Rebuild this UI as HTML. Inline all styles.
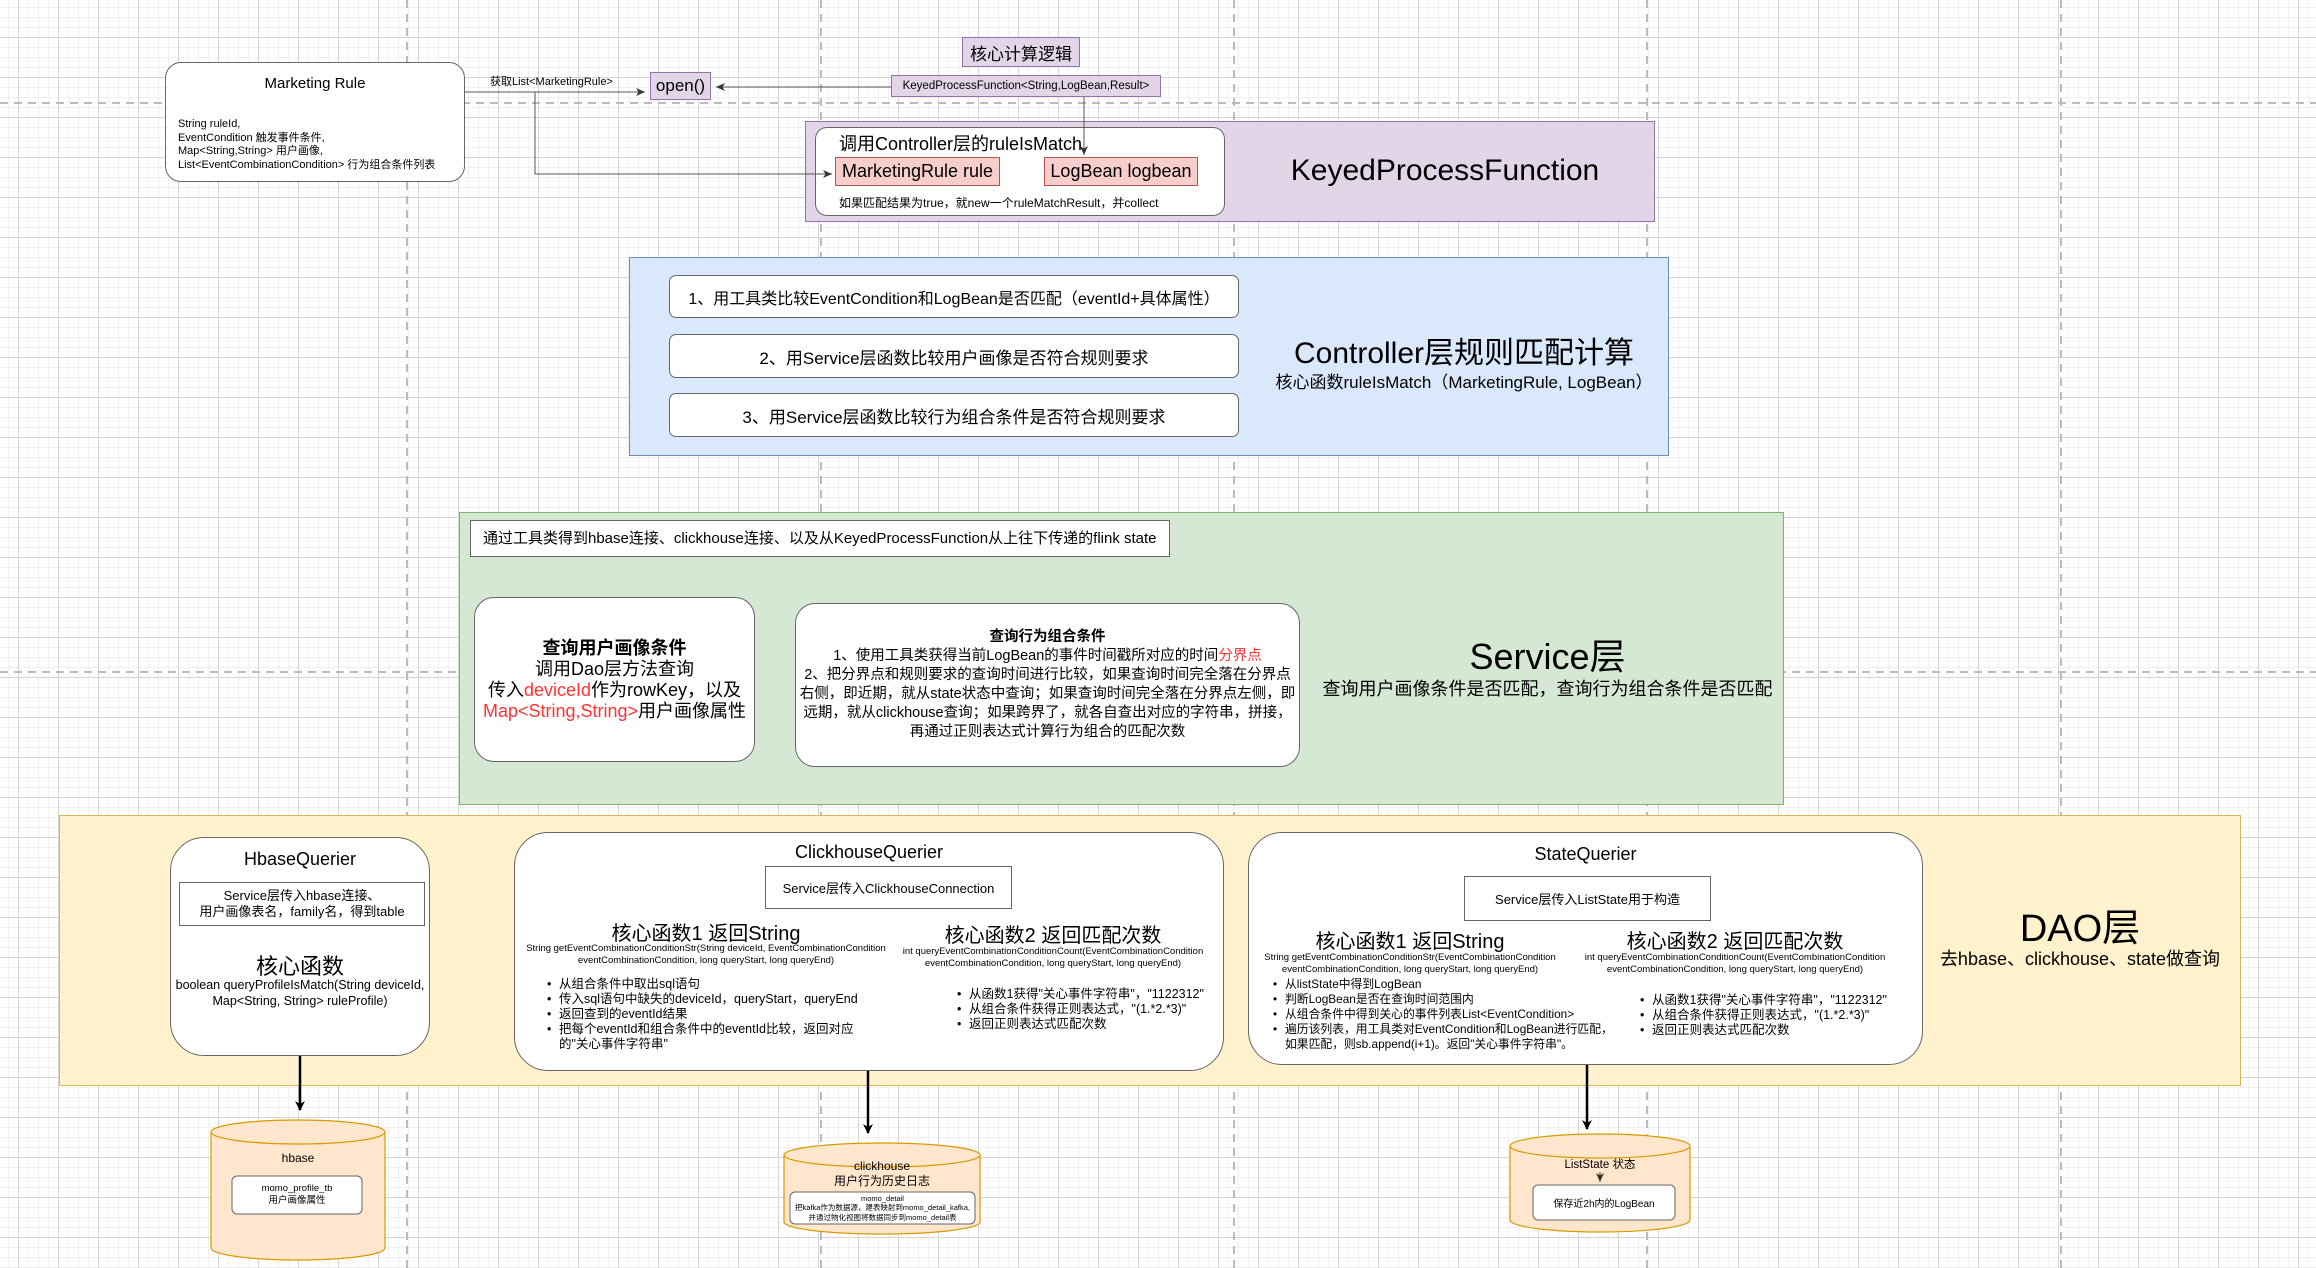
<!DOCTYPE html>
<html><head><meta charset="utf-8">
<style>
*{margin:0;padding:0;box-sizing:border-box}
body{width:2316px;height:1268px;position:relative;overflow:hidden;background:#fff;
font-family:"Liberation Sans","Noto Sans CJK SC",sans-serif;color:#000;
background-image:
linear-gradient(#d4d4d4 1px,transparent 1px),
linear-gradient(90deg,#d4d4d4 1px,transparent 1px),
linear-gradient(#f0f0f0 1px,transparent 1px),
linear-gradient(90deg,#f0f0f0 1px,transparent 1px);
background-size:40px 40px,40px 40px,10px 10px,10px 10px;
background-position:0 37px,18px 0,0 7px,8px 0;}
.a{position:absolute}
.c{display:flex;align-items:center;justify-content:center;text-align:center;flex-direction:column}
.red{color:#ff3333}
ul{list-style:none}
li{position:relative;padding-left:12px}
li:before{content:"•";position:absolute;left:0}
</style></head><body>
<svg class="a" style="left:0;top:0" width="2316" height="1268">
<g stroke="#bbb" stroke-width="2" stroke-dasharray="8,6" fill="none">
<line x1="0" y1="103" x2="2316" y2="103"/>
<line x1="0" y1="672" x2="2316" y2="672"/>
<line x1="407" y1="0" x2="407" y2="1268"/>
<line x1="821" y1="0" x2="821" y2="1268"/>
<line x1="1234" y1="0" x2="1234" y2="1268"/>
<line x1="1647" y1="0" x2="1647" y2="1268"/>
<line x1="2061" y1="0" x2="2061" y2="1268"/>
</g>
</svg>

<div class="a" style="left:165px;top:62px;width:300px;height:120px;background:#fff;border:1px solid #666;border-radius:16px;">
<div class="a" style="left:0;top:12px;width:100%;text-align:center;font-size:15px">Marketing Rule</div>
<div class="a" style="left:12px;top:55px;font-size:11px;line-height:13.5px">String ruleId,<br>EventCondition 触发事件条件,<br>Map&lt;String,String&gt; 用户画像,<br>List&lt;EventCombinationCondition&gt; 行为组合条件列表</div>
</div>
<div class="a" style="left:490px;top:73px;font-size:11px">获取List&lt;MarketingRule&gt;</div>

<div class="a c" style="left:650px;top:72px;width:61px;height:28px;background:#e1d5e7;border:1px solid #9673a6;font-size:17px">open()</div>
<div class="a c" style="left:962px;top:37px;width:118px;height:30px;background:#e1d5e7;border:1px solid #9673a6;font-size:17px">核心计算逻辑</div>
<div class="a c" style="left:891px;top:75px;width:270px;height:22px;background:#e1d5e7;border:1px solid #9673a6;font-size:11.5px">KeyedProcessFunction&lt;String,LogBean,Result&gt;</div>

<div class="a" style="left:805px;top:121px;width:850px;height:101px;background:#e1d5e7;border:1px solid #9673a6"></div>
<div class="a c" style="left:1240px;top:150px;width:410px;height:42px;font-size:30px">KeyedProcessFunction</div>
<div class="a" style="left:815px;top:127px;width:410px;height:89px;background:#fff;border:1px solid #666;border-radius:12px"></div>
<div class="a" style="left:839px;top:130px;font-size:18px">调用Controller层的ruleIsMatch</div>
<div class="a c" style="left:835px;top:157px;width:165px;height:29px;background:#f8cecc;border:1px solid #b85450;font-size:18px">MarketingRule rule</div>
<div class="a c" style="left:1044px;top:157px;width:154px;height:29px;background:#f8cecc;border:1px solid #b85450;font-size:18px">LogBean logbean</div>
<div class="a" style="left:839px;top:194px;font-size:12px">如果匹配结果为true，就new一个ruleMatchResult，并collect</div>

<div class="a" style="left:629px;top:257px;width:1040px;height:199px;background:#dae8fc;border:1px solid #6c8ebf"></div>
<div class="a c" style="left:669px;top:275px;width:570px;height:43px;background:#fff;border:1px solid #666;border-radius:7px;font-size:16px">1、用工具类比较EventCondition和LogBean是否匹配（eventId+具体属性）</div>
<div class="a c" style="left:669px;top:334px;width:570px;height:44px;background:#fff;border:1px solid #666;border-radius:7px;font-size:17px">2、用Service层函数比较用户画像是否符合规则要求</div>
<div class="a c" style="left:669px;top:393px;width:570px;height:44px;background:#fff;border:1px solid #666;border-radius:7px;font-size:17px">3、用Service层函数比较行为组合条件是否符合规则要求</div>
<div class="a c" style="left:1250px;top:330px;width:428px;height:40px;font-size:30px">Controller层规则匹配计算</div>
<div class="a c" style="left:1250px;top:367px;width:428px;height:26px;font-size:17px">核心函数ruleIsMatch（MarketingRule, LogBean）</div>

<div class="a" style="left:459px;top:512px;width:1325px;height:293px;background:#d5e8d4;border:1px solid #82b366"></div>
<div class="a" style="left:470px;top:520px;width:700px;height:37px;background:#fff;border:1px solid #666;font-size:15px;line-height:35px;padding-left:12px">通过工具类得到hbase连接、clickhouse连接、以及从KeyedProcessFunction从上往下传递的flink state</div>
<div class="a c" style="left:474px;top:597px;width:281px;height:165px;background:#fff;border:1px solid #666;border-radius:20px;font-size:18px;line-height:21px">
<div style="font-weight:bold">查询用户画像条件</div><div>调用Dao层方法查询</div><div>传入<span class="red">deviceId</span>作为rowKey，以及</div><div><span class="red">Map&lt;String,String&gt;</span>用户画像属性</div></div>
<div class="a c" style="left:795px;top:603px;width:505px;height:164px;background:#fff;border:1px solid #666;border-radius:20px;font-size:14.5px;line-height:19px;padding:0 2px">
<div style="font-weight:bold">查询行为组合条件</div>
<div>1、使用工具类获得当前LogBean的事件时间戳所对应的时间<span class="red">分界点</span><br>2、把分界点和规则要求的查询时间进行比较，如果查询时间完全落在分界点右侧，即近期，就从state状态中查询；如果查询时间完全落在分界点左侧，即远期，就从clickhouse查询；如果跨界了，就各自查出对应的字符串，拼接，再通过正则表达式计算行为组合的匹配次数</div></div>
<div class="a c" style="left:1310px;top:630px;width:475px;height:48px;font-size:36px">Service层</div>
<div class="a c" style="left:1310px;top:675px;width:475px;height:26px;font-size:18px">查询用户画像条件是否匹配，查询行为组合条件是否匹配</div>

<div class="a" style="left:59px;top:815px;width:2182px;height:271px;background:#fff2cc;border:1px solid #d6b656"></div>
<div class="a" style="left:170px;top:837px;width:260px;height:219px;background:#fff;border:1px solid #666;border-radius:34px"></div>
<div class="a c" style="left:170px;top:847px;width:260px;height:24px;font-size:18px">HbaseQuerier</div>
<div class="a c" style="left:179px;top:882px;width:246px;height:44px;background:#fff;border:1px solid #666;font-size:13px;line-height:16px">Service层传入hbase连接、<br>用户画像表名，family名，得到table</div>
<div class="a c" style="left:170px;top:950px;width:260px;height:30px;font-size:22px">核心函数</div>
<div class="a c" style="left:170px;top:976px;width:260px;height:34px;font-size:12.5px;line-height:16px">boolean queryProfileIsMatch(String deviceId,<br>Map&lt;String, String&gt; ruleProfile)</div>

<div class="a" style="left:514px;top:832px;width:710px;height:239px;background:#fff;border:1px solid #666;border-radius:34px"></div>
<div class="a c" style="left:514px;top:840px;width:710px;height:24px;font-size:18px">ClickhouseQuerier</div>
<div class="a c" style="left:765px;top:866px;width:247px;height:43px;background:#fff;border:1px solid #666;font-size:13px">Service层传入ClickhouseConnection</div>
<div class="a c" style="left:526px;top:917px;width:360px;height:28px;font-size:20px">核心函数1 返回String</div>
<div class="a c" style="left:526px;top:942px;width:360px;height:26px;font-size:9.5px;line-height:12px">String getEventCombinationConditionStr(String deviceId, EventCombinationCondition<br>eventCombinationCondition, long queryStart, long queryEnd)</div>
<div class="a c" style="left:893px;top:919px;width:320px;height:28px;font-size:20px">核心函数2 返回匹配次数</div>
<div class="a c" style="left:893px;top:945px;width:320px;height:26px;font-size:9.5px;line-height:12px">int queryEventCombinationConditionCount(EventCombinationCondition<br>eventCombinationCondition, long queryStart, long queryEnd)</div>
<ul class="a" style="left:547px;top:977px;width:320px;font-size:12.5px;line-height:15px">
<li>从组合条件中取出sql语句</li><li>传入sql语句中缺失的deviceId，queryStart，queryEnd</li><li>返回查到的eventId结果</li><li>把每个eventId和组合条件中的eventId比较，返回对应的"关心事件字符串"</li></ul>
<ul class="a" style="left:957px;top:987px;width:260px;font-size:12.5px;line-height:15px">
<li>从函数1获得"关心事件字符串"，"1122312"</li><li>从组合条件获得正则表达式，"(1.*2.*3)"</li><li>返回正则表达式匹配次数</li></ul>

<div class="a" style="left:1248px;top:832px;width:675px;height:233px;background:#fff;border:1px solid #666;border-radius:34px"></div>
<div class="a c" style="left:1248px;top:842px;width:675px;height:24px;font-size:18px">StateQuerier</div>
<div class="a c" style="left:1464px;top:876px;width:247px;height:45px;background:#fff;border:1px solid #666;font-size:13px">Service层传入ListState用于构造</div>
<div class="a c" style="left:1255px;top:925px;width:310px;height:28px;font-size:20px">核心函数1 返回String</div>
<div class="a c" style="left:1255px;top:951px;width:310px;height:26px;font-size:9.5px;line-height:12px">String getEventCombinationConditionStr(EventCombinationCondition<br>eventCombinationCondition, long queryStart, long queryEnd)</div>
<div class="a c" style="left:1570px;top:925px;width:330px;height:28px;font-size:20px">核心函数2 返回匹配次数</div>
<div class="a c" style="left:1570px;top:951px;width:330px;height:26px;font-size:9.5px;line-height:12px">int queryEventCombinationConditionCount(EventCombinationCondition<br>eventCombinationCondition, long queryStart, long queryEnd)</div>
<ul class="a" style="left:1273px;top:977px;width:350px;font-size:11.8px;line-height:15px">
<li>从listState中得到LogBean</li><li>判断LogBean是否在查询时间范围内</li><li>从组合条件中得到关心的事件列表List&lt;EventCondition&gt;</li><li>遍历该列表，用工具类对EventCondition和LogBean进行匹配，如果匹配，则sb.append(i+1)。返回"关心事件字符串"。</li></ul>
<ul class="a" style="left:1640px;top:993px;width:260px;font-size:12.5px;line-height:15px">
<li>从函数1获得"关心事件字符串"，"1122312"</li><li>从组合条件获得正则表达式，"(1.*2.*3)"</li><li>返回正则表达式匹配次数</li></ul>
<div class="a c" style="left:1925px;top:898px;width:310px;height:52px;font-size:38px">DAO层</div>
<div class="a c" style="left:1925px;top:945px;width:310px;height:26px;font-size:18px">去hbase、clickhouse、state做查询</div>

<svg class="a" style="left:0;top:0" width="2316" height="1268">
<defs>
<marker id="ar" markerWidth="10" markerHeight="10" refX="9" refY="5" orient="auto" markerUnits="userSpaceOnUse"><path d="M0,0 L10,5 L0,10 L3,5 z" fill="#000"/></marker>
<marker id="ag" markerWidth="10" markerHeight="10" refX="9" refY="5" orient="auto" markerUnits="userSpaceOnUse"><path d="M0,1 L9,5 L0,9 L2.5,5 z" fill="#333"/></marker>
</defs>
<g stroke="#555" stroke-width="1" fill="none">
<line x1="465" y1="92" x2="645" y2="92" marker-end="url(#ag)"/>
<line x1="891" y1="87" x2="716" y2="87" marker-end="url(#ag)"/>
<polyline points="535,92 535,174 832,174" marker-end="url(#ag)"/>
<line x1="1084" y1="97" x2="1084" y2="155" marker-end="url(#ag)"/>
</g>
<g stroke="#000" stroke-width="2.5">
<line x1="300" y1="1056" x2="300" y2="1110" marker-end="url(#ar)"/>
<line x1="868" y1="1071" x2="868" y2="1133" marker-end="url(#ar)"/>
<line x1="1587" y1="1065" x2="1587" y2="1129" marker-end="url(#ar)"/>
</g>
<g fill="#ffe6cc" stroke="#d79b00" stroke-width="1.2">
<path d="M211,1132 L211,1248 A87,12 0 0 0 385,1248 L385,1132"/>
<ellipse cx="298" cy="1132" rx="87" ry="12"/>
<path d="M784,1155 L784,1222 A98,12 0 0 0 980,1222 L980,1155"/>
<ellipse cx="882" cy="1155" rx="98" ry="12"/>
<path d="M1510,1146 L1510,1220 A90,12 0 0 0 1690,1220 L1690,1146"/>
<ellipse cx="1600" cy="1146" rx="90" ry="12"/>
</g>
<g fill="#fff" stroke="#666" stroke-width="1">
<rect x="232" y="1176" width="130" height="38" rx="5"/>
<rect x="790" y="1192" width="185" height="32" rx="5"/>
<rect x="1533" y="1185" width="142" height="35" rx="5"/>
</g>
<line x1="1600" y1="1172" x2="1600" y2="1182" stroke="#333" marker-end="url(#ag)"/>
</svg>
<div class="a c" style="left:211px;top:1148px;width:174px;height:20px;font-size:12px">hbase</div>
<div class="a c" style="left:232px;top:1176px;width:130px;height:38px;font-size:9.5px;line-height:12px">momo_profile_tb<br>用户画像属性</div>
<div class="a c" style="left:784px;top:1158px;width:196px;height:32px;font-size:12px;line-height:15px">clickhouse<br>用户行为历史日志</div>
<div class="a c" style="left:790px;top:1192px;width:185px;height:32px;font-size:7.5px;line-height:9.5px">momo_detail<br>把kafka作为数据源，建表映射到momo_detail_kafka,<br>并通过物化视图将数据同步到momo_detail表</div>
<div class="a c" style="left:1510px;top:1155px;width:180px;height:18px;font-size:11.5px">ListState 状态</div>
<div class="a c" style="left:1533px;top:1185px;width:142px;height:35px;font-size:10px">保存近2h内的LogBean</div>
</body></html>
